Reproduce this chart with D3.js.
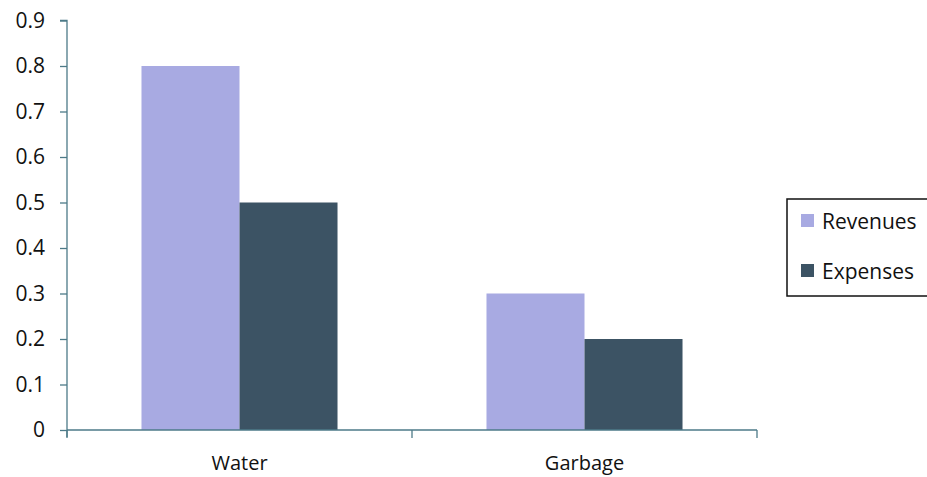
<!DOCTYPE html>
<html><head><meta charset="utf-8">
<script src="https://cdn.jsdelivr.net/npm/d3@7"></script>
<style>body{margin:0;background:#fff;}svg{display:block;}</style>
</head><body>
<svg id="c" width="927" height="477"></svg>
<script>
const categories = ["Water", "Garbage"];
const seriesNames = ["Revenues", "Expenses"];
const revenues = [0.8, 0.3];
const expenses = [0.5, 0.2];
const yTicks = [0, 0.1, 0.2, 0.3, 0.4, 0.5, 0.6, 0.7, 0.8, 0.9];
const colors = ["#a8aae2", "#3c5364"];

const svg = d3.select("#c");
const font = "'Open Sans', 'Noto Sans', sans-serif";
const axisColor = "#4d7a88";
const pLeft = 67, pRight = 757, pTop = 20.5, pBottom = 430;

const x = d3.scaleBand().domain(categories).range([pLeft, pRight]).paddingInner(0).paddingOuter(0);
const xs = d3.scaleBand().domain(seriesNames).range([0, x.bandwidth()]).paddingInner(0).paddingOuter(0.76);
const y = d3.scaleLinear().domain([0, 0.9]).range([pBottom, pTop]);

const series = [revenues, expenses];
seriesNames.forEach((s, si) => {
  svg.append("g").selectAll("rect").data(categories).join("rect")
    .attr("x", c => x(c) + xs(s))
    .attr("width", xs.bandwidth())
    .attr("y", (c, i) => y(series[si][i]))
    .attr("height", (c, i) => pBottom - y(series[si][i]))
    .attr("fill", colors[si]);
});

// y axis
const ya = svg.append("g").attr("transform", `translate(${pLeft},0)`)
  .call(d3.axisLeft(y).tickValues(yTicks).tickSize(7).tickPadding(15)
    .tickFormat(d => d === 0 ? "0" : d3.format(".1f")(d)));
ya.select(".domain").attr("stroke", axisColor).attr("stroke-width", 1.3).attr("d", `M-7,${pTop}H0V${pBottom + 7}`);
ya.selectAll(".tick line").attr("stroke", axisColor).attr("stroke-width", 1.3);
ya.selectAll(".tick text").attr("font-family", font).attr("font-size", 21).attr("fill", "#111");

// x axis
const xa = svg.append("g").attr("transform", `translate(0,${pBottom})`);
xa.append("line").attr("x1", pLeft).attr("x2", pRight).attr("y1", 0).attr("y2", 0)
  .attr("stroke", axisColor).attr("stroke-width", 1.3);
const xTickPos = [pLeft, ...categories.map(c => x(c) + x.bandwidth())];
xa.selectAll("line.t").data(xTickPos).join("line").attr("class", "t")
  .attr("x1", d => d).attr("x2", d => d).attr("y1", 0).attr("y2", 8)
  .attr("stroke", axisColor).attr("stroke-width", 1.3);
xa.selectAll("text").data(categories).join("text")
  .attr("x", c => x(c) + x.bandwidth() / 2).attr("y", 40)
  .attr("text-anchor", "middle").attr("font-family", font).attr("font-size", 20).attr("fill", "#111")
  .text(c => c);

// legend
const lg = svg.append("g");
lg.append("rect").attr("x", 787).attr("y", 199).attr("width", 160).attr("height", 97)
  .attr("fill", "#fff").attr("stroke", "#111").attr("stroke-width", 1.5);
seriesNames.forEach((s, i) => {
  const yy = 221 + i * 50;
  lg.append("rect").attr("x", 801).attr("y", yy - 7).attr("width", 13).attr("height", 13).attr("fill", colors[i]);
  lg.append("text").attr("x", 822).attr("y", yy + 8).attr("font-family", font).attr("font-size", 21)
    .attr("fill", "#111").text(s);
});
</script>
</body></html>
